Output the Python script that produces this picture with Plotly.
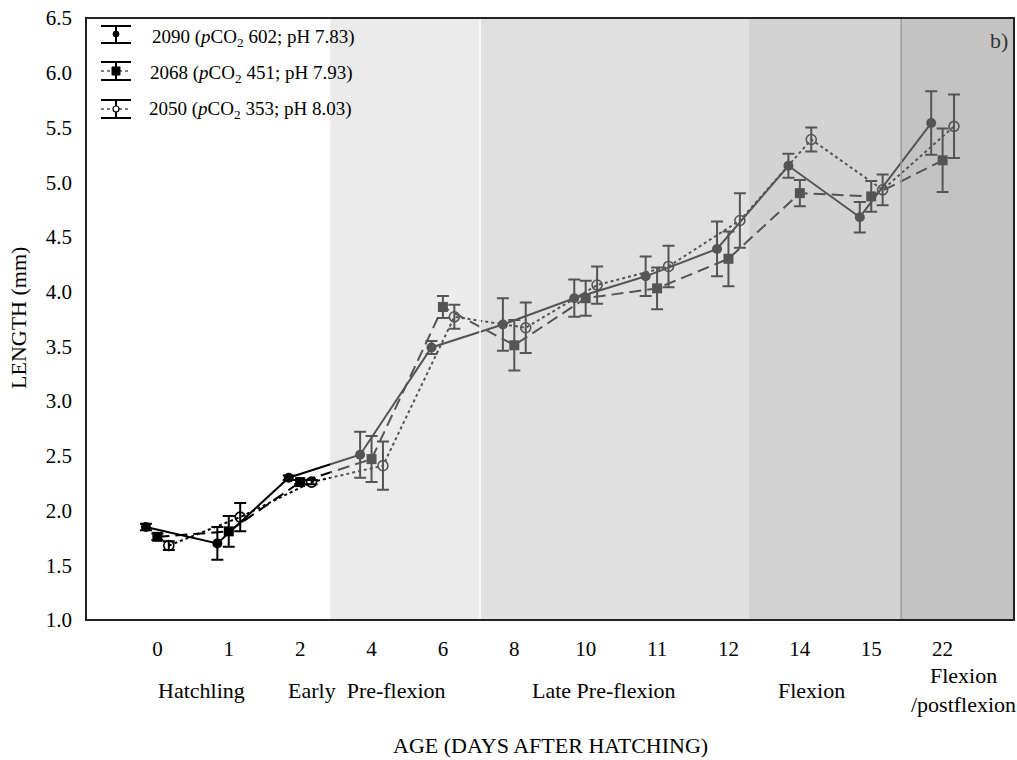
import numpy as np
import plotly.graph_objects as go

# ---- data -------------------------------------------------------------
days = ["0", "1", "2", "4", "6", "8", "10", "11", "12", "14", "15", "22"]

len_2090 = [1.85, 1.70, 2.30, 2.51, 3.49, 3.70, 3.94, 4.14, 4.39, 5.15, 4.68, 5.54]
err_2090 = [0.03, 0.15, 0.02, 0.21, 0.06, 0.24, 0.17, 0.18, 0.25, 0.11, 0.14, 0.29]

len_2068 = [1.76, 1.81, 2.26, 2.47, 3.86, 3.51, 3.94, 4.03, 4.30, 4.90, 4.87, 5.20]
err_2068 = [0.03, 0.14, 0.02, 0.21, 0.10, 0.23, 0.16, 0.19, 0.25, 0.12, 0.14, 0.29]

len_2050 = [1.68, 1.94, 2.26, 2.41, 3.77, 3.67, 4.06, 4.23, 4.65, 5.39, 4.93, 5.51]
err_2050 = [0.04, 0.13, 0.02, 0.22, 0.11, 0.23, 0.17, 0.19, 0.25, 0.11, 0.14, 0.29]

series_names = [
    "2090 (<i>p</i>CO<sub>2</sub> 602; pH 7.83)",
    "2068 (<i>p</i>CO<sub>2</sub> 451; pH 7.93)",
    "2050 (<i>p</i>CO<sub>2</sub> 353; pH 8.03)",
]

stage_names = ["Hatchling", "Early  Pre-flexion", "Late Pre-flexion", "Flexion",
               "Flexion<br>/postflexion"]

# ---- layout constants -------------------------------------------------
FONT = "Liberation Serif"
W, H = 1017, 760
L, R, T, B = 86, 3, 18, 140
PW, PH = W - L - R, H - T - B

idx = np.arange(len(days))
dodge = 0.16

# stage band edges (in category-index units) and their tint overlays
band_edges = [2.42, 4.52, 8.29, 10.42, 12.0]
band_fills = [
    "rgba(206,206,206,0.41)",
    "rgba(187,187,187,0.455)",
    "rgba(168,168,168,0.50)",
    "rgba(149,149,149,0.57)",
]
stage_x = [0.62, 2.93, 6.26, 9.16, 11.29]


def px2paper(x=None, y=None):
    out = []
    if x is not None:
        out.append((x - L) / PW)
    if y is not None:
        out.append((H - B - y) / PH)
    return out[0] if len(out) == 1 else tuple(out)


fig = go.Figure()

styles = [
    dict(data=len_2090, err=err_2090, off=-dodge, dash="solid",
         marker=dict(symbol="circle", size=10, color="black")),
    dict(data=len_2068, err=err_2068, off=0.0, dash="12px,6px",
         marker=dict(symbol="square", size=10, color="black")),
    dict(data=len_2050, err=err_2050, off=dodge, dash="3px,3px",
         marker=dict(symbol="circle-open", size=10, color="black",
                     line=dict(width=1.6, color="black"))),
]

for name, st in zip(series_names, styles):
    fig.add_trace(go.Scatter(
        x=idx + st["off"], y=st["data"], mode="lines+markers", name=name,
        line=dict(color="black", width=2, dash=st["dash"]),
        marker=st["marker"],
        error_y=dict(type="data", array=st["err"], visible=True,
                     color="black", thickness=2, width=6),
        showlegend=False,
    ))

shapes = []
# stage bands drawn over the data so the marks take on the band tone
for x0, x1, fc in zip(band_edges[:-1], band_edges[1:], band_fills):
    shapes.append(dict(type="rect", xref="x", yref="paper", x0=x0, x1=x1,
                       y0=0, y1=1, fillcolor=fc, line=dict(width=0),
                       layer="above"))
shapes.append(dict(type="line", xref="x", yref="paper", x0=band_edges[1],
                   x1=band_edges[1], y0=0, y1=1,
                   line=dict(color="white", width=1.5), layer="above"))
shapes.append(dict(type="line", xref="x", yref="paper", x0=band_edges[3],
                   x1=band_edges[3], y0=0, y1=1,
                   line=dict(color="#9a9a9a", width=1.5), layer="above"))
# plot frame
shapes.append(dict(type="rect", xref="paper", yref="paper", x0=0, x1=1,
                   y0=0, y1=1, line=dict(color="#222", width=2),
                   fillcolor="rgba(0,0,0,0)", layer="above"))

# legend glyphs: capped bar with the series marker and line style
leg_rows = [(26, 43, 34), (62, 80, 71), (100, 118, 109)]
leg_x0, leg_x1, leg_xc = 101, 131, 116
leg_dash = ["solid", "dot", "dot"]
for (yt, yb, ym), dsh, k in zip(leg_rows, leg_dash, range(3)):
    for yy in (yt, yb):
        xa, ya = px2paper(leg_x0, yy)
        xb, _ = px2paper(leg_x1, yy)
        shapes.append(dict(type="line", xref="paper", yref="paper",
                           x0=xa, x1=xb, y0=ya, y1=ya,
                           line=dict(color="black", width=2), layer="above"))
    xa, ya = px2paper(leg_xc, yt)
    _, yb2 = px2paper(leg_xc, yb)
    shapes.append(dict(type="line", xref="paper", yref="paper",
                       x0=xa, x1=xa, y0=ya, y1=yb2,
                       line=dict(color="black", width=2), layer="above"))
    if k > 0:
        xa, ym_p = px2paper(leg_x0, ym)
        xb, _ = px2paper(leg_x1, ym)
        shapes.append(dict(type="line", xref="paper", yref="paper",
                           x0=xa, x1=xb, y0=ym_p, y1=ym_p,
                           line=dict(color="black", width=1, dash=dsh),
                           layer="above"))
    r = 3
    xa, ya = px2paper(leg_xc - r, ym - r)
    xb, yb3 = px2paper(leg_xc + r, ym + r)
    if k == 0:
        shapes.append(dict(type="circle", xref="paper", yref="paper",
                           x0=xa, x1=xb, y0=yb3, y1=ya, fillcolor="black",
                           line=dict(color="black", width=1), layer="above"))
    elif k == 1:
        xa, ya = px2paper(leg_xc - 4, ym - 4)
        xb, yb3 = px2paper(leg_xc + 4, ym + 4)
        shapes.append(dict(type="rect", xref="paper", yref="paper",
                           x0=xa, x1=xb, y0=yb3, y1=ya, fillcolor="black",
                           line=dict(color="black", width=1), layer="above"))
    else:
        shapes.append(dict(type="circle", xref="paper", yref="paper",
                           x0=xa, x1=xb, y0=yb3, y1=ya, fillcolor="white",
                           line=dict(color="black", width=1.2), layer="above"))

annotations = []
leg_text_x = [150, 148, 147]
leg_text_y = [38, 74, 110]
for name, tx, ty in zip(series_names, leg_text_x, leg_text_y):
    ax, ay = px2paper(tx, ty)
    annotations.append(dict(text=name, xref="paper", yref="paper", x=ax, y=ay,
                            xanchor="left", yanchor="middle", showarrow=False,
                            font=dict(family=FONT, size=19, color="black")))

# stage names beneath the day ticks
_, stage_y = px2paper(0, 690)
for nm, sx in zip(stage_names, stage_x):
    annotations.append(dict(text=nm, xref="x", yref="paper", x=sx, y=stage_y,
                            xanchor="center", yanchor="middle", showarrow=False,
                            font=dict(family=FONT, size=22, color="black")))

# axis titles
_, ty = px2paper(0, 745)
annotations.append(dict(text="AGE (DAYS AFTER HATCHING)", xref="paper", yref="paper",
                        x=px2paper(550), y=ty, xanchor="center", yanchor="middle",
                        showarrow=False, font=dict(family=FONT, size=22, color="black")))
lx, ly = px2paper(18, 318)
annotations.append(dict(text="LENGTH (mm)", xref="paper", yref="paper", x=lx, y=ly,
                        xanchor="center", yanchor="middle", textangle=-90,
                        showarrow=False, font=dict(family=FONT, size=22, color="black")))
bx, by = px2paper(1010, 40)
annotations.append(dict(text="b)", xref="paper", yref="paper", x=bx, y=by,
                        xanchor="right", yanchor="middle", showarrow=False,
                        font=dict(family=FONT, size=22, color="#333")))

fig.update_layout(
    width=W, height=H,
    margin=dict(l=L, r=R, t=T, b=B),
    paper_bgcolor="white", plot_bgcolor="white",
    font=dict(family=FONT, size=21, color="black"),
    shapes=shapes, annotations=annotations,
    showlegend=False,
)
fig.update_xaxes(range=[-1, 12], tickvals=idx, ticktext=days, showgrid=False,
                 zeroline=False, showline=False, ticks="", ticklabelstandoff=14,
                 tickfont=dict(family=FONT, size=21, color="black"))
fig.update_yaxes(range=[1.0, 6.5], dtick=0.5, tick0=1.0, tickformat=".1f",
                 showgrid=False, zeroline=False, showline=False, ticks="",
                 ticklabelstandoff=13,
                 tickfont=dict(family=FONT, size=21, color="black"))

fig.write_html("out.html")
